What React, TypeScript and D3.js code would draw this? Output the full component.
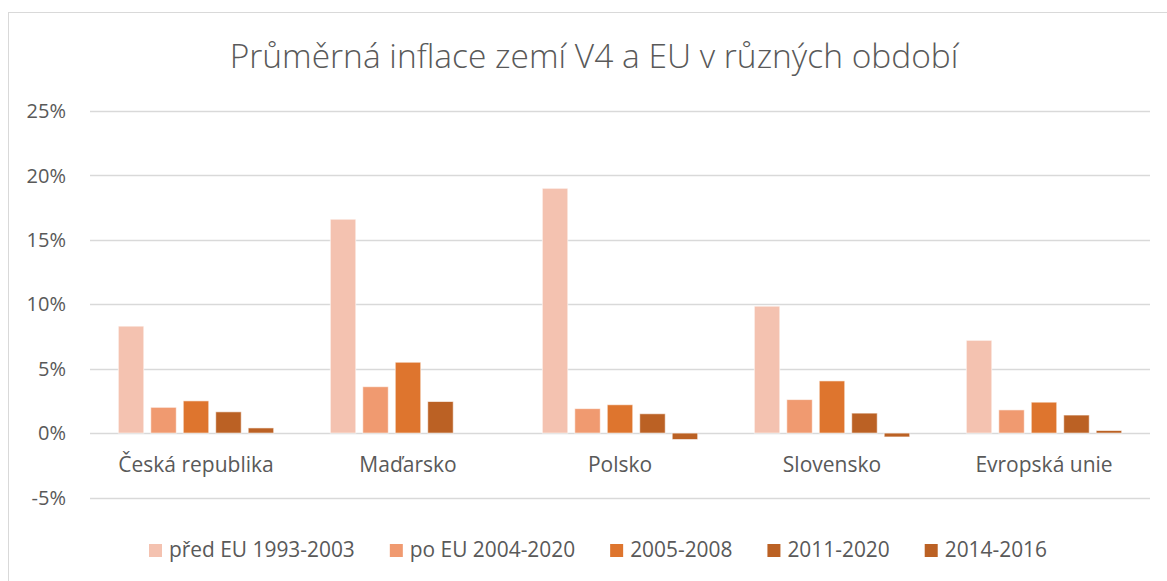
import { useEffect, useRef } from 'react'
import * as d3 from 'd3'

// ─── Data ────────────────────────────────────────────────────────────────────

const categories = ['Česká republika', 'Maďarsko', 'Polsko', 'Slovensko', 'Evropská unie']
const seriesNames = ['před EU 1993-2003', 'po EU 2004-2020', '2005-2008', '2011-2020', '2014-2016']

// values in %, one array per series, ordered like `categories`
const predEU = [8.3, 16.6, 19.0, 9.85, 7.2]
const poEU = [2.0, 3.6, 1.9, 2.6, 1.8]
const y2005_2008 = [2.5, 5.5, 2.2, 4.05, 2.4]
const y2011_2020 = [1.65, 2.45, 1.5, 1.55, 1.4]
const y2014_2016 = [0.4, 0.0, -0.5, -0.3, 0.2]

const seriesValues = [predEU, poEU, y2005_2008, y2011_2020, y2014_2016]
const yTicks = [-5, 0, 5, 10, 15, 20, 25]

const title = 'Průměrná inflace zemí V4 a EU v různých období'

// ─── Theme ───────────────────────────────────────────────────────────────────

const colors = {
  series: ['#F4C2B0', '#F09A70', '#DE752E', '#BB6124', '#BB6124'],
  text: '#595959',
  grid: '#D9D9D9',
  frame: '#D9D9D9',
}
const font = '"Open Sans", "Noto Sans", sans-serif'

const W = 1167
const H = 581

export default function App() {
  const ref = useRef<SVGSVGElement>(null)

  useEffect(() => {
    document.body.style.margin = '0'
    if (!ref.current) return
    const svg = d3.select(ref.current)
    svg.selectAll('*').remove()
    svg.style('font-family', font)

    // chart frame (extends past the right/bottom edge like the source)
    svg.append('rect')
      .attr('x', 8.5)
      .attr('y', 12.5)
      .attr('width', 1200)
      .attr('height', 620)
      .attr('fill', '#fff')
      .attr('stroke', colors.frame)
      .attr('stroke-width', 1)

    const plot = { left: 90, right: 1150, top: 111, bottom: 497.5 }

    const y = d3.scaleLinear().domain([-5, 25]).range([plot.bottom, plot.top])

    const x0 = d3.scaleBand<string>()
      .domain(categories)
      .range([plot.left, plot.right])
      .paddingInner(0.267)
      .paddingOuter(0.1335)

    const x1 = d3.scaleBand<number>()
      .domain(d3.range(seriesNames.length))
      .range([0, x0.bandwidth()])
      .paddingInner(0.215)
      .paddingOuter(0)

    // gridlines
    svg.append('g')
      .selectAll('line')
      .data(yTicks)
      .join('line')
      .attr('x1', plot.left)
      .attr('x2', plot.right)
      .attr('y1', (d) => Math.round(y(d)) + 0.5)
      .attr('y2', (d) => Math.round(y(d)) + 0.5)
      .attr('stroke', colors.grid)
      .attr('stroke-width', 1.4)

    // y tick labels
    svg.append('g')
      .selectAll('text')
      .data(yTicks)
      .join('text')
      .attr('x', 66)
      .attr('y', (d) => y(d))
      .attr('dy', '0.36em')
      .attr('text-anchor', 'end')
      .attr('font-size', 20)
      .attr('fill', colors.text)
      .text((d) => `${d}%`)

    // bars
    seriesValues.forEach((vals, si) => {
      svg.append('g')
        .selectAll('rect')
        .data(vals)
        .join('rect')
        .attr('x', (_, i) => x0(categories[i])! + x1(si)!)
        .attr('y', (d) => y(Math.max(0, d)))
        .attr('width', x1.bandwidth())
        .attr('height', (d) => Math.abs(y(d) - y(0)))
        .attr('fill', colors.series[si])
        .attr('stroke', '#fff')
        .attr('stroke-opacity', 0.6)
        .attr('stroke-width', 1)
    })

    // category labels
    svg.append('g')
      .selectAll('text')
      .data(categories)
      .join('text')
      .attr('x', (d) => x0(d)! + x0.bandwidth() / 2)
      .attr('y', 472)
      .attr('text-anchor', 'middle')
      .attr('font-size', 21)
      .attr('fill', colors.text)
      .text((d) => d)

    // title
    svg.append('text')
      .attr('x', 594)
      .attr('y', 68)
      .attr('text-anchor', 'middle')
      .attr('font-size', 33.5)
      .attr('font-weight', 300)
      .attr('fill', colors.text)
      .text(title)

    // legend, laid out from measured text widths and centred
    const legend = svg.append('g')
    const sw = 13
    const gapText = 7
    const gapItem = 35
    const items = seriesNames.map((name, i) => {
      const g = legend.append('g')
      g.append('rect')
        .attr('width', sw)
        .attr('height', sw)
        .attr('y', 544)
        .attr('fill', colors.series[i])
      const t = g.append('text')
        .attr('x', sw + gapText)
        .attr('y', 557)
        .attr('font-size', 20.9)
        .attr('fill', colors.text)
        .text(name)
      const w = (t.node() as SVGTextElement).getComputedTextLength()
      return { g, w: sw + gapText + w }
    })
    const total = d3.sum(items, (d) => d.w) + gapItem * (items.length - 1)
    let cx = 598 - total / 2
    items.forEach(({ g, w }) => {
      g.attr('transform', `translate(${cx},0)`)
      cx += w + gapItem
    })
  }, [])

  return <svg ref={ref} width={W} height={H} style={{ display: 'block', background: '#fff' }} />
}
